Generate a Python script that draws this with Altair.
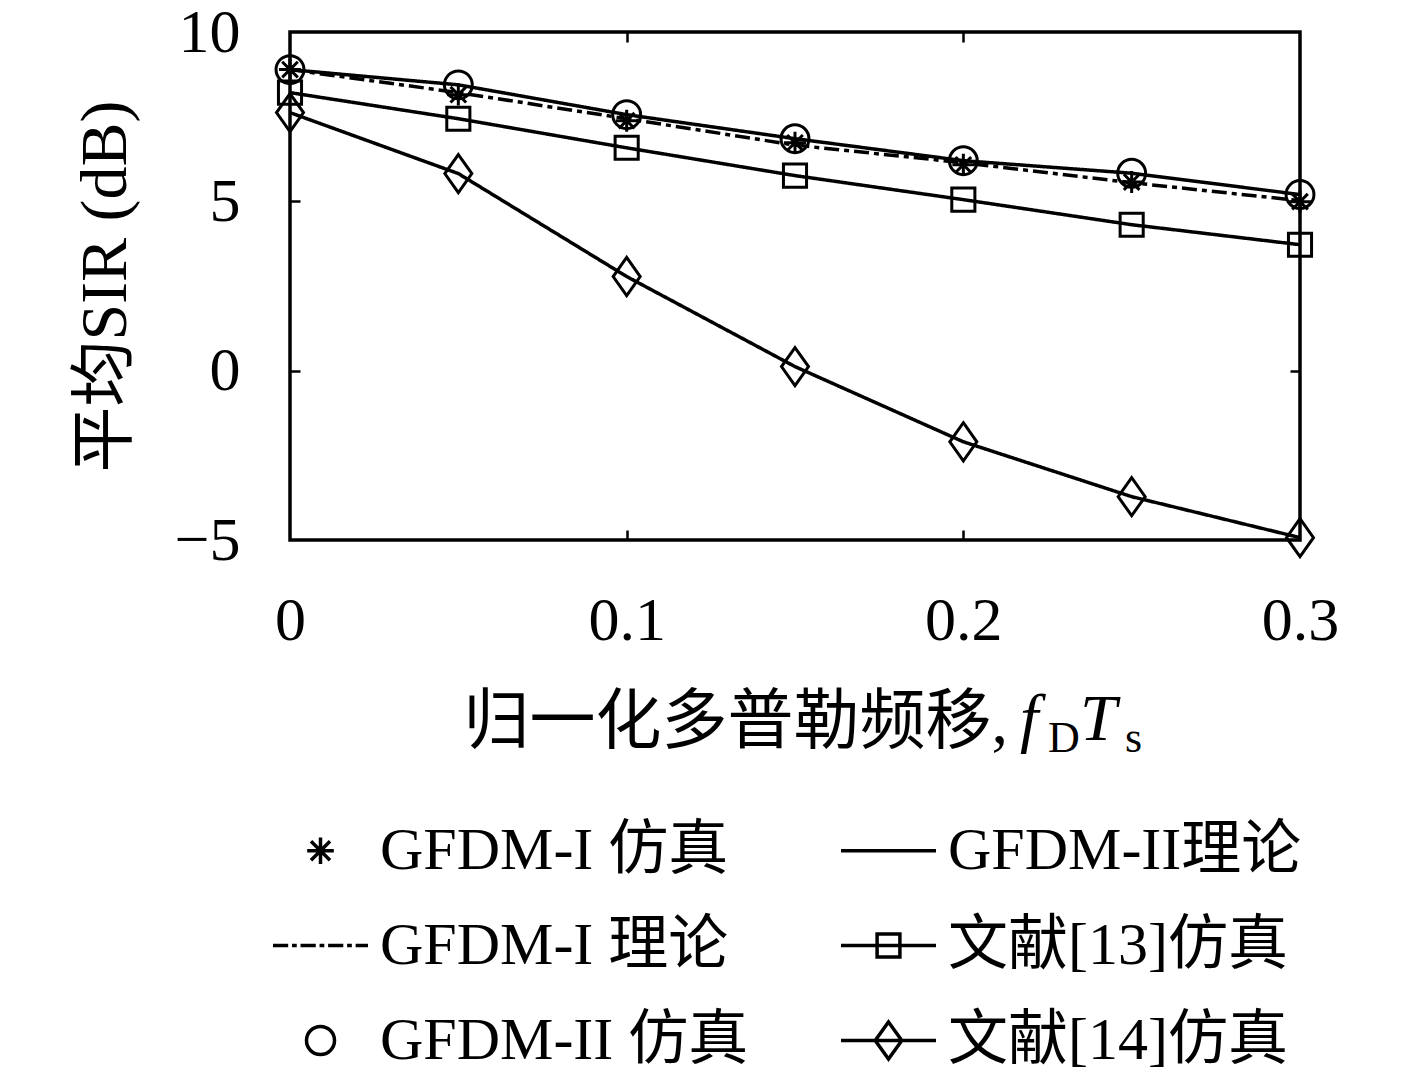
import altair as alt
import pandas as pd

# ---------------- data ----------------
x_vals = [0, 0.05, 0.1, 0.15, 0.2, 0.25, 0.3]
gfdm1_sim = [8.89, 8.15, 7.38, 6.73, 6.08, 5.57, 4.99]
gfdm1_theory = [8.89, 8.21, 7.44, 6.66, 6.14, 5.55, 5.02]
gfdm2_sim = [8.89, 8.44, 7.56, 6.85, 6.20, 5.83, 5.20]
gfdm2_theory = [8.89, 8.44, 7.56, 6.85, 6.20, 5.83, 5.20]
ref13_sim = [8.21, 7.44, 6.58, 5.76, 5.05, 4.31, 3.72]
ref14_sim = [7.62, 5.82, 2.78, 0.12, -2.10, -3.72, -4.93]

names = {
    "g1s": "GFDM-I 仿真",
    "g1t": "GFDM-I 理论",
    "g2s": "GFDM-II 仿真",
    "g2t": "GFDM-II理论",
    "r13": "文献[13]仿真",
    "r14": "文献[14]仿真",
}
x_ticks = [0, 0.1, 0.2, 0.3]
y_ticks = [-5, 0, 5, 10]

series = [
    (names["g1s"], gfdm1_sim),
    (names["g1t"], gfdm1_theory),
    (names["g2s"], gfdm2_sim),
    (names["g2t"], gfdm2_theory),
    (names["r13"], ref13_sim),
    (names["r14"], ref14_sim),
]
rows = []
for nm, vals in series:
    for xv, yv in zip(x_vals, vals):
        rows.append({"x": xv, "y": yv, "series": nm})
df = pd.DataFrame(rows)

line_series = [names["g1t"], names["g2t"], names["r13"], names["r14"]]
dash_range = [[15, 5, 5, 5], [1, 0], [1, 0], [1, 0]]

marker_series = [names["g1s"], names["g2s"], names["r13"], names["r14"]]
marker_paths = [
    "M0,-0.73V0.73M-0.73,0H0.73M-0.52,-0.52L0.52,0.52M-0.52,0.52L0.52,-0.52",
    "M0.93,0A0.93,0.93,0,1,1,-0.93,0A0.93,0.93,0,1,1,0.93,0Z",
    "M-0.77,-0.77H0.77V0.77H-0.77Z",
    "M0,-1.27L0.9,0L0,1.27L-0.9,0Z",
]

# legend fills column by column: first three entries form the left column
legend_order = [names["g1s"], names["g1t"], names["g2s"], names["g2t"], names["r13"], names["r14"]]
legend_paths = [
    "M0,-0.28V0.28M-0.28,0H0.28M-0.2,-0.2L0.2,0.2M-0.2,0.2L0.2,-0.2",
    "M-1,0H-0.68M-0.6,0H-0.5M-0.42,0H-0.1M-0.02,0H0.08M0.16,0H0.48M0.56,0H0.66M0.74,0H1",
    "M0.295,0A0.295,0.295,0,1,1,-0.295,0A0.295,0.295,0,1,1,0.295,0Z",
    "M-1,0H1",
    "M-1,0H1M-0.24,-0.24H0.24V0.24H-0.24Z",
    "M-1,0H1M0,-0.39L0.28,0L0,0.39L-0.28,0Z",
]

FONT = "Liberation Serif, Noto Sans CJK SC"

xs = alt.Scale(domain=[0, 0.3], nice=False, zero=False)
ys = alt.Scale(domain=[-5, 10], nice=False, zero=False)


def tick_axis(orient, values):
    return alt.Axis(orient=orient, values=values, offset=-10, ticks=True, tickSize=10,
                    tickWidth=2.5, tickColor="black", labels=False, domain=False,
                    grid=False, title=None)


lines = alt.Chart(df).transform_filter(
    alt.FieldOneOfPredicate(field="series", oneOf=line_series)
).mark_line(color="black", strokeWidth=3.5).encode(
    x=alt.X("x:Q", scale=xs, axis=alt.Axis(
        orient="bottom", values=x_ticks, format="~g", ticks=False, domain=False, grid=False,
        labelFont=FONT, labelFontSize=62, labelPadding=50, labelColor="black",
        labelFlush=False, title=None)),
    y=alt.Y("y:Q", scale=ys, axis=alt.Axis(
        orient="left", values=y_ticks, format="d", ticks=False, domain=False, grid=False,
        labelFont=FONT, labelFontSize=62, labelPadding=50, labelColor="black",
        labelFlush=False, title="平均SIR (dB)", titleFont=FONT, titleFontSize=66,
        titleFontWeight="normal", titleColor="black", titlePadding=35)),
    strokeDash=alt.StrokeDash("series:N", scale=alt.Scale(domain=line_series, range=dash_range),
                              legend=None),
    detail="series:N",
)

markers = alt.Chart(df).transform_filter(
    alt.FieldOneOfPredicate(field="series", oneOf=marker_series)
).mark_point(filled=False, color="black", strokeWidth=3, size=900, opacity=1).encode(
    x=alt.X("x:Q", scale=xs, axis=tick_axis("bottom", [0.1, 0.2])),
    y=alt.Y("y:Q", scale=ys, axis=tick_axis("left", [0, 5])),
    shape=alt.Shape("series:N", scale=alt.Scale(domain=marker_series, range=marker_paths),
                    legend=None),
)

legend_layer = alt.Chart(df).transform_filter("false").mark_point(
    filled=False, color="black", strokeWidth=3, opacity=1
).encode(
    x=alt.X("x:Q", scale=xs, axis=tick_axis("top", [0.1, 0.2])),
    y=alt.Y("y:Q", scale=ys, axis=tick_axis("right", [0, 5])),
    shape=alt.Shape("series:N", scale=alt.Scale(domain=legend_order, range=legend_paths),
                    legend=alt.Legend(
                        title=None, orient="none", legendX=-19, legendY=769, columns=2,
                        columnPadding=85, rowPadding=15, symbolSize=9025, symbolStrokeWidth=3.5,
                        symbolStrokeColor="black", symbolFillColor="transparent",
                        symbolOpacity=1,
                        labelFont=FONT, labelFontSize=60, labelOffset=10,
                        labelColor="black", labelLimit=0, padding=0)),
)


def txt(text, x, y, size, italic=False, align="left"):
    return alt.Chart(pd.DataFrame({"t": [text]})).mark_text(
        font=FONT, fontSize=size, fontStyle="italic" if italic else "normal",
        align=align, baseline="alphabetic", color="black"
    ).encode(text="t:N", x=alt.value(x), y=alt.value(y))


xtitle = [
    txt("归一化多普勒频移,", 718, 711, 66, align="right"),
    txt("f", 730, 708, 66, italic=True),
    txt("D", 758, 720, 44),
    txt("T", 790, 708, 66, italic=True),
    txt("s", 835, 720, 44),
]

chart = alt.layer(lines, markers, legend_layer, *xtitle).resolve_scale(
    shape="independent"
).resolve_axis(x="independent", y="independent").properties(
    width=1010, height=508,
    autosize=alt.AutoSizeParams(type="none"),
    padding={"left": 282, "top": 24, "right": 109, "bottom": 532},
    background="white",
).configure_view(stroke="black", strokeWidth=3.5)

chart.save("out.html", embed_options={"renderer": "svg", "actions": False})
